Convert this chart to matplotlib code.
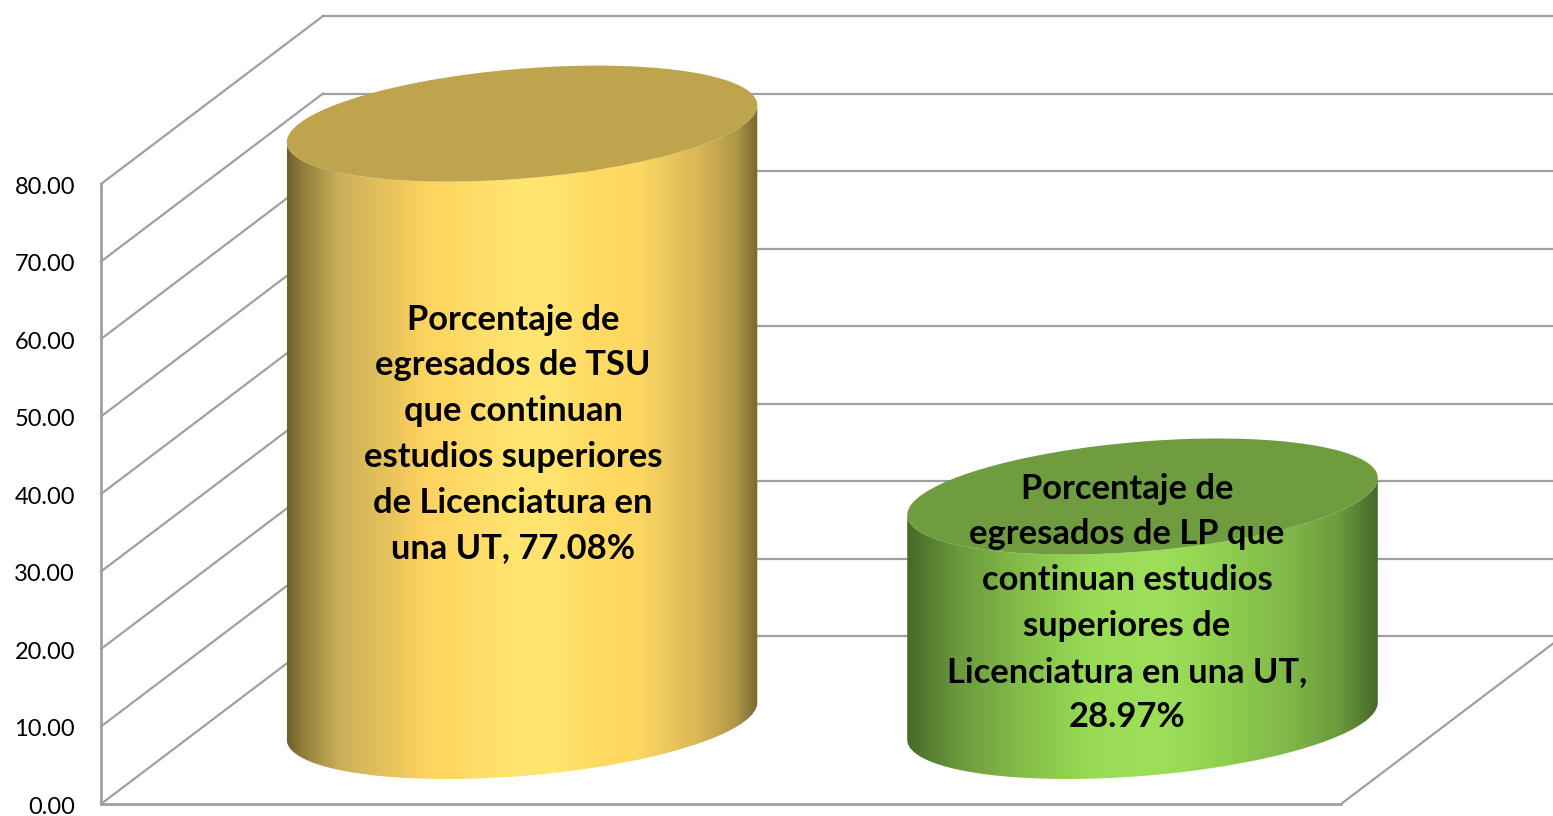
import numpy as np
import matplotlib
matplotlib.use("Agg")
import matplotlib.pyplot as plt
from matplotlib.colors import LinearSegmentedColormap
from matplotlib.patches import Polygon

# data
labels = [
    "Porcentaje de\negresados de TSU\nque continuan\nestudios superiores\nde Licenciatura en\nuna UT, 77.08%",
    "Porcentaje de\negresados de LP que\ncontinuan estudios\nsuperiores de\nLicenciatura en una UT,\n28.97%",
]
values = [77.08, 28.97]
y_ticks = [0, 10, 20, 30, 40, 50, 60, 70, 80]

# layout, x in pixels, y in chart units
W, H = 1553, 816
px_per_unit = 7.75
y_bottom = -12 / px_per_unit
y_top = (H - 12) / px_per_unit
wall_x = 101
floor_end = 1341
depth_x = 222
depth_y = 168 / px_per_unit
centers = [522, 1142.5]
label_x = [513, 1127]
label_mid = [(804 - 434) / px_per_unit, (804 - 603) / px_per_unit]
base_y = 83 / px_per_unit
ell_a, ell_c, ell_d = 223, 75, 58 / px_per_unit

grid_color = "#a0a0a0"
body_colors = [
    [(0.0, "#6f5f2c"), (0.03, "#8f7d3c"), (0.107, "#c9ae58"), (0.30, "#ffd35f"), (0.48, "#ffe46f"),
     (0.57, "#ffe46f"), (0.65, "#ffda62"), (0.745, "#ffd862"), (0.885, "#d4b456"), (0.955, "#b09848"), (1.0, "#7a6830")],
    [(0.0, "#466a28"), (0.11, "#6c9a3c"), (0.24, "#84bc48"), (0.39, "#98dc55"), (0.54, "#9ddf58"),
     (0.67, "#90d050"), (0.82, "#7fb548"), (0.92, "#6a9a3c"), (1.0, "#47692a")],
]
top_colors = ["#bfa44e", "#6f9c3f"]

fig = plt.figure(figsize=(W / 100, H / 100), dpi=100)
ax = fig.add_axes([0, 0, 1, 1])
ax.axis("off")

# walls and floor
for v in y_ticks:
    ax.plot([wall_x, wall_x + depth_x], [v, v + depth_y], color=grid_color, lw=1.6, zorder=1)
    ax.plot([wall_x + depth_x, floor_end + depth_x], [v + depth_y, v + depth_y], color=grid_color, lw=1.6, zorder=1)
    ax.text(75, v - 0.4, "%.2f" % v, ha="right", va="center", fontsize=17, family="Lato", color="black")
ax.plot([wall_x, wall_x], [0, 80], color=grid_color, lw=2, zorder=1)
ax.plot([wall_x, floor_end], [0, 0], color=grid_color, lw=2, zorder=1)
ax.plot([floor_end, floor_end + depth_x], [0, depth_y], color=grid_color, lw=1.6, zorder=1)


def ellipse(cx, cy, t):
    return cx + ell_a * np.cos(t) + ell_c * np.sin(t), cy + ell_d * np.sin(t)


t0 = np.arctan2(ell_c, ell_a)
half_width = np.hypot(ell_a, ell_c)
for cx, v, colors, top, text, tx, ty in zip(centers, values, body_colors, top_colors, labels, label_x, label_mid):
    # cylinder body with a horizontal gradient
    t = np.linspace(t0 + np.pi, t0 + 2 * np.pi, 120)
    xb, yb = ellipse(cx, base_y, t)
    xt, yt = ellipse(cx, base_y + v, t[::-1])
    clip = Polygon(np.column_stack([np.r_[xb, xt], np.r_[yb, yt]]), closed=True, fc="none", ec="none")
    ax.add_patch(clip)
    cmap = LinearSegmentedColormap.from_list("body", colors)
    grad = np.linspace(0, 1, 512).reshape(1, -1)
    im = ax.imshow(grad, extent=[cx - half_width, cx + half_width, y_bottom, y_top], aspect="auto",
                   cmap=cmap, zorder=2, interpolation="bilinear")
    im.set_clip_path(clip)
    # top face
    t = np.linspace(0, 2 * np.pi, 240)
    xe, ye = ellipse(cx, base_y + v, t)
    ax.add_patch(Polygon(np.column_stack([xe, ye]), closed=True, fc=top, ec="none", zorder=3))
    ax.text(tx, ty, text, ha="center", va="center", fontsize=24.8, fontweight="bold", family="Lato",
            linespacing=1.53, color="black", zorder=4)

ax.set_xlim(0, W)
ax.set_ylim(y_bottom, y_top)

fig.savefig("out.png", dpi=100)
